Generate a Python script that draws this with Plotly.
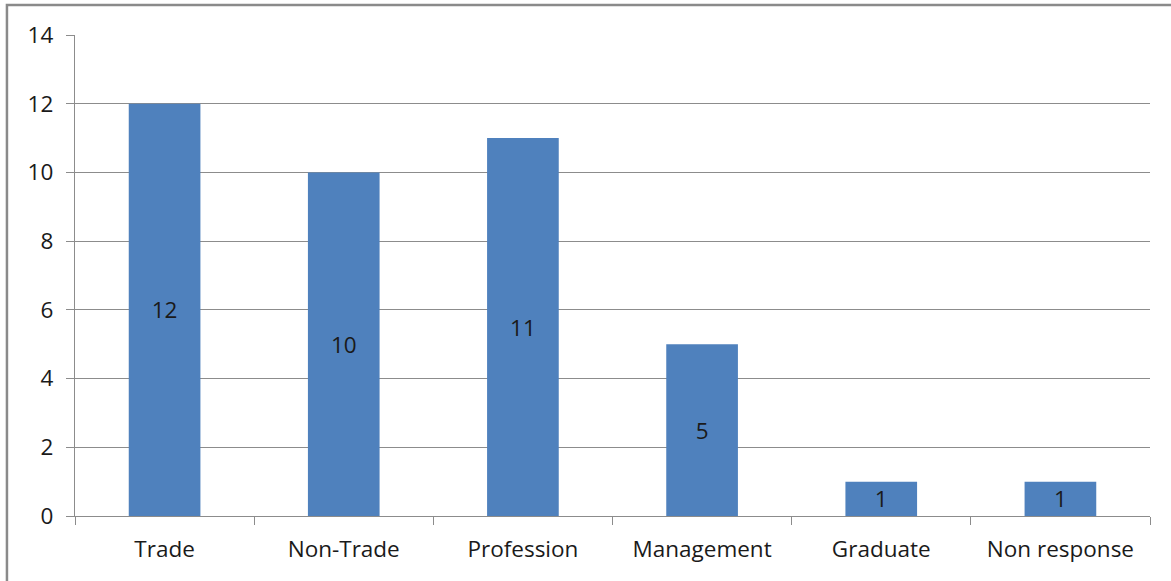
import plotly.graph_objects as go

# Respondent background categories and counts
categories = ["Trade", "Non-Trade", "Profession", "Management", "Graduate", "Non response"]
counts = [12, 10, 11, 5, 1, 1]

# Y-axis tick values
y_ticks = [0, 2, 4, 6, 8, 10, 12, 14]

bar_color = "#4F81BD"
axis_gray = "#8C8C8C"
font_family = "'Open Sans', Lato, 'DejaVu Sans', sans-serif"
text_color = "#1A1A1A"
font_size = 22.5

fig = go.Figure(
    go.Bar(
        x=categories,
        y=counts,
        marker=dict(color=bar_color, line=dict(width=0)),
        text=[str(v) for v in counts],
        textposition="inside",
        insidetextanchor="middle",
        textangle=0,
        textfont=dict(family=font_family, size=font_size, color=text_color),
        constraintext="none",
        cliponaxis=False,
    )
)

fig.update_layout(
    width=1171,
    height=581,
    margin=dict(l=75, r=21, t=35, b=65),
    paper_bgcolor="white",
    plot_bgcolor="white",
    bargap=0.6,
    showlegend=False,
    font=dict(family=font_family, size=font_size, color=text_color),
    shapes=[
        # outer chart frame
        dict(
            type="rect", xref="paper", yref="paper",
            x0=-0.0633, x1=1.03, y0=-0.16, y1=1.0624,
            line=dict(color="#8A8A8A", width=2.5),
            fillcolor="rgba(0,0,0,0)", layer="below",
        )
    ],
)

fig.update_xaxes(
    type="category",
    showgrid=False,
    showline=True,
    linecolor=axis_gray,
    linewidth=1.3,
    ticks="outside",
    tickson="boundaries",
    ticklen=8,
    tickcolor=axis_gray,
    tickwidth=1.3,
    ticklabelstandoff=13,
    tickfont=dict(family=font_family, size=font_size, color=text_color),
    fixedrange=True,
)

fig.update_yaxes(
    range=[0, 14],
    tickvals=y_ticks,
    showgrid=True,
    gridcolor=axis_gray,
    gridwidth=1.3,
    showline=True,
    linecolor=axis_gray,
    linewidth=1.3,
    ticks="outside",
    ticklen=8,
    tickcolor=axis_gray,
    tickwidth=1.3,
    ticklabelstandoff=8,
    tickfont=dict(family=font_family, size=font_size, color=text_color),
    zeroline=False,
    fixedrange=True,
)

fig.write_html("out.html", config={"displayModeBar": False})
